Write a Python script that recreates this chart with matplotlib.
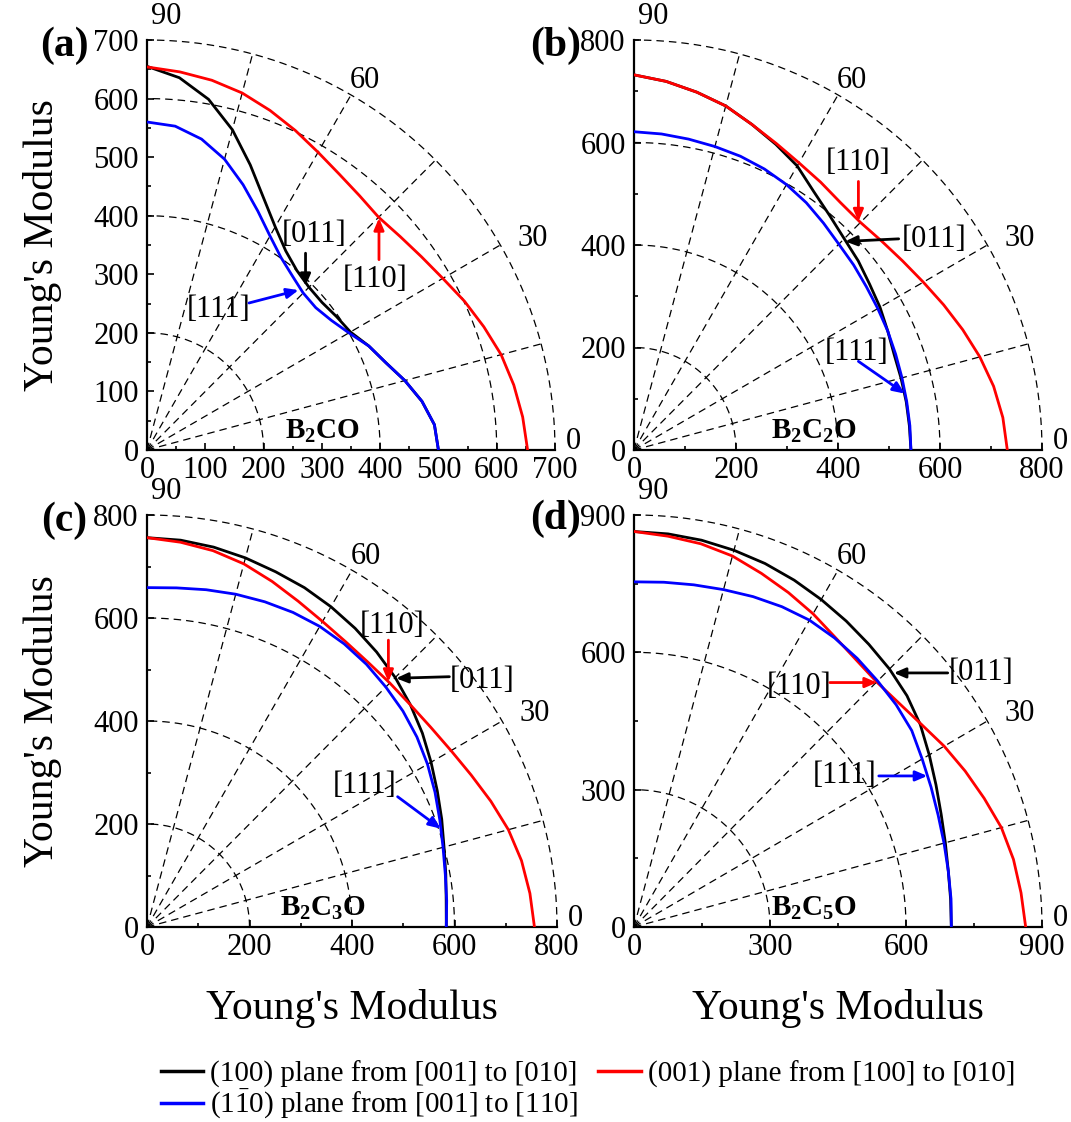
import numpy as np
import matplotlib
matplotlib.use('Agg')
import matplotlib.pyplot as plt
from matplotlib.ticker import MultipleLocator
from matplotlib.lines import Line2D

plt.rcParams['font.family'] = ['Liberation Serif', 'DejaVu Serif']
plt.rcParams['mathtext.fontset'] = 'custom'
plt.rcParams['mathtext.rm'] = 'Liberation Serif'
plt.rcParams['mathtext.bf'] = 'Liberation Serif:bold'

# angle in degrees, 0 = x axis, 90 = y axis
angles = [0, 5, 10, 15, 20, 25, 30, 35, 40, 45, 50, 55, 60, 65, 70, 75, 80, 85, 90]

# Young's modulus (GPa)
# (a) B2CO
a_black = [500, 495, 479, 458, 436, 420, 403, 397, 392, 393, 400, 415, 440, 474, 518, 566, 608, 638, 655]
a_red = [653, 647, 639, 629, 615, 601, 586, 575, 567, 562, 567, 575, 587, 602, 617, 631, 641, 648, 654]
a_blue = [500, 495, 479, 458, 436, 420, 400, 386, 378, 379, 388, 401, 422, 450, 482, 514, 539, 555, 560]
# (b) B2C2O
b_black = [543, 542, 542, 542, 543, 549, 557, 564, 574, 583, 597, 615, 640, 658, 676, 695, 709, 722, 732]
b_red = [732, 726, 716, 702, 686, 670, 655, 643, 634, 628, 630, 638, 647, 660, 676, 695, 709, 722, 732]
b_blue = [543, 543, 543, 544, 546, 549, 552, 556, 562, 568, 578, 589, 598, 605, 610, 613, 616, 619, 621]
# (c) B2C3O
c_black = [584, 586, 592, 600, 612, 625, 640, 656, 671, 685, 697, 708, 718, 727, 734, 742, 749, 754, 756]
c_red = [756, 750, 742, 730, 714, 698, 685, 676, 671, 670, 671, 676, 685, 698, 714, 730, 742, 750, 756]
c_blue = [584, 587, 591, 598, 608, 620, 632, 643, 652, 659, 666, 671, 674, 674, 672, 669, 665, 661, 659]
# (d) B2C5O
d_black = [700, 701, 704, 711, 721, 735, 752, 771, 786, 797, 806, 816, 826, 836, 845, 852, 858, 862, 864]
d_red = [864, 857, 850, 839, 822, 806, 790, 773, 762, 757, 762, 773, 790, 806, 822, 839, 850, 857, 864]
d_blue = [700, 702, 704, 708, 714, 723, 734, 748, 755, 760, 766, 771, 774, 772, 768, 763, 759, 756, 754]

curves = [(a_black, a_red, a_blue), (b_black, b_red, b_blue),
          (c_black, c_red, c_blue), (d_black, d_red, d_blue)]

tags = ['(a)', '(b)', '(c)', '(d)']
compounds = [r'$\mathbf{B_2CO}$', r'$\mathbf{B_2C_2O}$', r'$\mathbf{B_2C_3O}$', r'$\mathbf{B_2C_5O}$']
rmax = [700, 800, 800, 900]
major = [100, 200, 200, 300]
arcs = [[200, 400, 600, 700], [200, 400, 600, 800], [200, 400, 600, 800], [300, 600, 900]]
spokes = [15, 30, 45, 60, 75]

legend_labels = ['(100) plane from [001] to [010]',
                 '(001) plane from [100] to [010]',
                 r'(1$\bar{1}$0) plane from [001] to [110]']
colors = ['black', 'red', 'blue']

# (label, colour, text pos, arrow start, arrow tip)
notes = [
    [('[011]', 'black', (287, 368), (272, 336), (272, 280)),
     ('[110]', 'red', (392, 291), (398, 325), (398, 396)),
     ('[111]', 'blue', (123, 240), (175, 251), (260, 273))],
    [('[110]', 'red', (440, 560), (440, 524), (440, 446)),
     ('[011]', 'black', (589, 410), (519, 412), (414, 407)),
     ('[111]', 'blue', (437, 190), (440, 173), (531, 110))],
    [('[110]', 'red', (479, 586), (471, 557), (471, 476)),
     ('[011]', 'black', (654, 479), (590, 486), (486, 483)),
     ('[111]', 'blue', (424, 275), (489, 253), (573, 191))],
    [('[011]', 'black', (766, 555), (692, 555), (573, 555)),
     ('[110]', 'red', (365, 525), (432, 534), (536, 534)),
     ('[111]', 'blue', (465, 332), (540, 330), (647, 330))],
]

W, H = 1071, 1122
fig = plt.figure(figsize=(W / 100, H / 100), dpi=100)

# axes boxes in pixels: left, top, right, bottom
boxes = [(147, 40, 555, 450), (634, 40, 1042, 450), (147, 515, 557, 927), (634, 515, 1042, 927)]
tag_pos = [(64, 46), (556, 46), (64, 521), (556, 519)]

th = np.radians(angles)
phi = np.linspace(0, np.pi / 2, 200)

for i in range(4):
    l, t, r, b = boxes[i]
    ax = fig.add_axes([l / W, 1 - b / H, (r - l) / W, (b - t) / H])
    R = rmax[i]

    # polar grid
    for rr in arcs[i]:
        ax.plot(rr * np.cos(phi), rr * np.sin(phi), color='black', lw=0.9,
                dashes=(6, 4), clip_on=False, zorder=1)
    for a in spokes:
        ax.plot([0, R * np.cos(np.radians(a))], [0, R * np.sin(np.radians(a))],
                color='black', lw=0.9, dashes=(6, 4), clip_on=False, zorder=1)

    for vals, c in zip(curves[i], colors):
        rv = np.array(vals)
        ax.plot(rv * np.cos(th), rv * np.sin(th), color=c, lw=2.0, zorder=3,
                solid_joinstyle='round')

    ax.set_xlim(0, R)
    ax.set_ylim(0, R)
    for s in ['top', 'right']:
        ax.spines[s].set_visible(False)
    for s in ['left', 'bottom']:
        ax.spines[s].set_linewidth(1.6)
    ax.xaxis.set_major_locator(MultipleLocator(major[i]))
    ax.xaxis.set_minor_locator(MultipleLocator(major[i] / 2))
    ax.yaxis.set_major_locator(MultipleLocator(major[i]))
    ax.yaxis.set_minor_locator(MultipleLocator(major[i] / 2))
    ax.tick_params(which='both', direction='in', width=1.2, labelsize=22)
    ax.tick_params(which='major', length=5)
    ax.tick_params(which='minor', length=3)
    ax.tick_params(axis='x', pad=4)
    ax.tick_params(axis='y', pad=6)

    # angle labels
    ax.text(1.045 * R, 0.02 * R, '0', fontsize=22, ha='center', va='center', clip_on=False)
    ax.text(0.945 * R, 0.517 * R, '30', fontsize=22, ha='center', va='center', clip_on=False)
    ax.text(0.535 * R, 0.90 * R, '60', fontsize=22, ha='center', va='center', clip_on=False)
    ax.text(0.048 * R, 1.057 * R, '90', fontsize=22, ha='center', va='center', clip_on=False)

    ax.text(0.44 if i % 2 else 0.43, 0.045, compounds[i], transform=ax.transAxes,
            fontsize=21, ha='center', va='center')

    for label, c, tpos, p0, p1 in notes[i]:
        ax.text(tpos[0], tpos[1], label, fontsize=22, ha='center', va='center', zorder=5)
        ax.annotate('', xy=p1, xytext=p0,
                    arrowprops=dict(arrowstyle='-|>,head_length=0.7,head_width=0.3',
                                    color=c, lw=2, shrinkA=0, shrinkB=0),
                    zorder=6)

    if i % 2 == 0:
        ax.set_ylabel("Young's Modulus", fontsize=30)
        ax.yaxis.set_label_coords(-0.208, 0.5)
    if i >= 2:
        ax.set_xlabel("Young's Modulus", fontsize=30)
        ax.xaxis.set_label_coords(0.5, -0.15)

    fig.text(tag_pos[i][0] / W, 1 - tag_pos[i][1] / H, tags[i], fontsize=30,
             fontweight='bold', ha='center', va='center')

handles = [Line2D([], [], color=c, lw=2.5) for c in colors]
fig.legend([handles[0], handles[2], handles[1]],
           [legend_labels[0], legend_labels[2], legend_labels[1]],
           ncol=2, loc='upper left', bbox_to_anchor=(146 / W, 1 - 1046 / H),
           frameon=False, fontsize=21, handlelength=1.45, handletextpad=0.25,
           columnspacing=0.7, labelspacing=0.0, borderpad=0)

fig.savefig('out.png', dpi=100)
